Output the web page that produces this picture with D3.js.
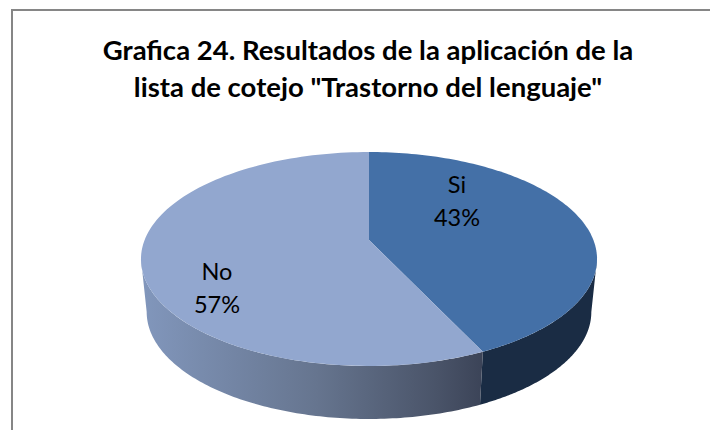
<!DOCTYPE html>
<html><head><meta charset="utf-8">
<script src="https://cdn.jsdelivr.net/npm/d3@7"></script>
<style>html,body{margin:0;padding:0;background:#fff;overflow:hidden}svg{display:block}</style>
</head><body>
<svg id="c" width="710" height="430"></svg>
<script>
const categories = ["Si", "No"];
const seriesValues = [43, 57];
const percentLabels = ["43%", "57%"];
const titleLines = ["Grafica 24. Resultados de la aplicación de la", "lista de cotejo \"Trastorno del lenguaje\""];
const topColors = ["#4470a7", "#92a7cf"];
const sideColors = ["#1a2c44", null];

const svg = d3.select("#c");
const defs = svg.append("defs");
const grad = defs.append("linearGradient").attr("id","noWall").attr("gradientUnits","userSpaceOnUse")
  .attr("x1",145).attr("x2",487).attr("y1",0).attr("y2",0);
[[0,"#8196bb"],[0.5,"#66758f"],[0.85,"#4a5469"],[1,"#3a4256"]].forEach(s =>
  grad.append("stop").attr("offset",s[0]).attr("stop-color",s[1]));

// Frame runs off the right and bottom edges of the picture
svg.append("rect").attr("x",12).attr("y",10).attr("width",740).attr("height",470)
  .attr("fill","#fff").attr("stroke","#868686").attr("stroke-width",2);

svg.selectAll("text.title").data(titleLines).enter().append("text").attr("class","title")
  .attr("x",368).attr("y",(d,i)=>[60,97][i]).attr("text-anchor","middle")
  .attr("font-family","Lato, 'Open Sans', sans-serif").attr("font-weight",700).attr("font-size",27.5)
  .attr("fill","#000").text(d=>d);

// Perspective projection of a unit circle to the tilted disc
const CX=369, AY=240, K=-0.1776, B=103.6, A=224.4, DEPTH=53, SHRINK=0.975;
const proj=(ang,wall)=>{
  const u=Math.sin(ang), v=-Math.cos(ang), w=1+K*v;
  const a=wall?A*SHRINK:A;
  return [CX+a*u/w, AY+B*v/w+(wall?DEPTH:0)];
};
// Angles where the disc outline is widest: only the arc between them shows a wall
const frontStart=Math.acos(K), frontEnd=2*Math.PI-frontStart;
const pie=d3.pie().sort(null)(seriesValues);
const line=d3.line();
const samples=(s,e,wall)=>d3.range(0,121).map(i=>proj(s+(e-s)*i/120,wall));

// walls
pie.forEach((p,i)=>{
  const s=Math.max(p.startAngle,frontStart), e=Math.min(p.endAngle,frontEnd);
  const t=samples(s,e,false), b=samples(s,e,true).reverse();
  svg.append("path").attr("d",line(t.concat(b))+"Z")
    .attr("fill",sideColors[i]||"url(#noWall)");
});
// top faces
pie.forEach((p,i)=>{
  const t=samples(p.startAngle,p.endAngle,false);
  svg.append("path").attr("d",line([[CX,AY]].concat(t))+"Z").attr("fill",topColors[i]);
});
// labels
const labelPos=[[457,193],[217,280]];
pie.forEach((p,i)=>{
  const g=svg.append("text").attr("text-anchor","middle")
    .attr("font-family","Lato, 'Open Sans', sans-serif").attr("font-size",23.5).attr("fill","#000");
  g.append("tspan").attr("x",labelPos[i][0]).attr("y",labelPos[i][1]).text(categories[i]);
  g.append("tspan").attr("x",labelPos[i][0]).attr("y",labelPos[i][1]+32.5).text(percentLabels[i]);
});
</script>
</body></html>
